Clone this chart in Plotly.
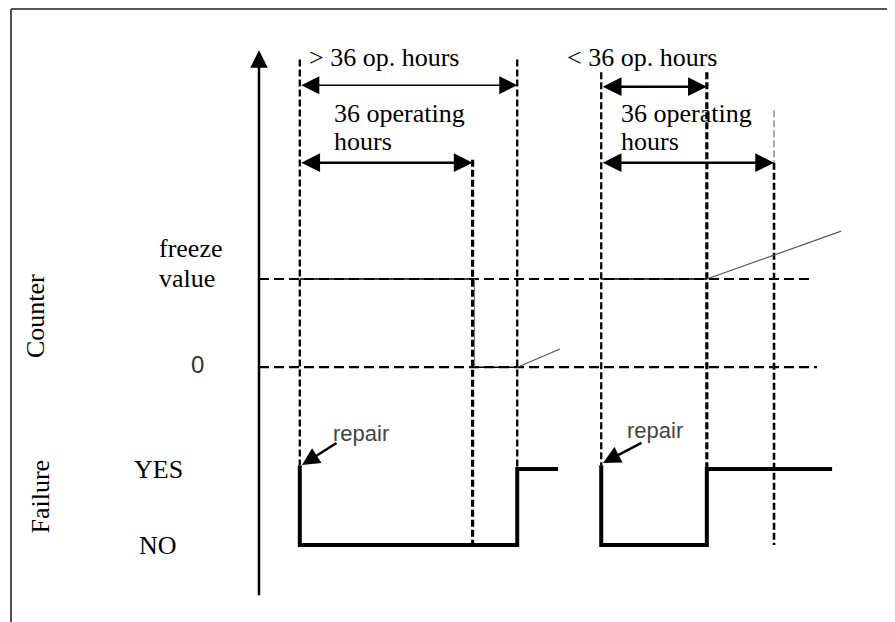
import plotly.graph_objects as go

# -------------------------------------------------------
# Data: event times (operating hours) and signal levels
# -------------------------------------------------------
# failure signal: NO = 0, YES = 1 ; counter levels drawn above it
failure_t1 = [8.5, 8.5, 53.8, 53.8, 62.3]
failure_v1 = [1.05, 0.0, 0.0, 1.0, 1.0]
failure_t2 = [71.3, 71.3, 93.3, 93.3, 119.4]
failure_v2 = [1.05, 0.0, 0.0, 1.0, 1.0]

counter_zero = 2.34
counter_freeze = 3.5

counter_t1 = [8.5, 44.5]
counter_v1 = [3.5, 3.5]
reset_t1 = [44.9, 44.9, 53.8]
reset_v1 = [3.5, 2.34, 2.34]
ramp_t1 = [53.8, 62.7]
ramp_v1 = [2.34, 2.58]

counter_t2 = [71.3, 93.3]
counter_v2 = [3.5, 3.5]
ramp_t2 = [93.3, 121.3]
ramp_v2 = [3.5, 4.13]

repair_times = [8.5, 71.3]
reset_time = 44.5          # repair + 36 h
failure_times = [53.8, 93.3]
window_end_2 = 107.3       # second repair + 36 h

level_labels = ["YES", "NO"]
level_values = [1.0, 0.0]

fig = go.Figure()

SERIF = "Liberation Serif"
SANS = "Liberation Sans"
FS = 26


def line(x, y, width=2, dash="solid", color="black"):
    fig.add_trace(go.Scatter(
        x=x, y=y, mode="lines",
        line=dict(color=color, width=width, dash=dash),
        hoverinfo="skip", showlegend=False
    ))


# horizontal dashed reference levels
line([0, 115.4], [counter_freeze, counter_freeze], 2.2, "10px,5px")
line([0, 116.25], [counter_zero, counter_zero], 2.2, "10px,5px")

# vertical dashed markers
line([repair_times[0], repair_times[0]], [6.39, 1.05], 2.3, "7px,3px")
line([reset_time, reset_time], [5.07, 0.0], 3.2, "7px,3px")
line([failure_times[0], failure_times[0]], [6.39, 1.0], 2.3, "7px,3px")
line([repair_times[1], repair_times[1]], [6.22, 1.05], 2.3, "7px,3px")
line([failure_times[1], failure_times[1]], [6.22, 1.0], 3.2, "7px,3px")
line([window_end_2, window_end_2], [5.72, 5.03], 1, "7px,3px", "#555")
line([window_end_2, window_end_2], [5.03, 0.0], 2.6, "7px,3px")

# counter curves
line(counter_t1, counter_v1, 1.5)
line(reset_t1[:2], reset_v1[:2], 1.2, color="#777")
line(reset_t1[1:], reset_v1[1:], 1.5)
line(ramp_t1, ramp_v1, 1.2, color="#555")
line(counter_t2, counter_v2, 1.5)
line(ramp_t2, ramp_v2, 1.2, color="#555")

# failure signal
line(failure_t1, failure_v1, 4)
line(failure_t2, failure_v2, 4)

annotations = []


def arrow(x0, y0, x1, y1, width=2.5, size=1.0, both=True):
    annotations.append(dict(
        x=x1, y=y1, ax=x0, ay=y0, xref="x", yref="y", axref="x", ayref="y",
        text="", showarrow=True, arrowhead=2, arrowsize=size,
        arrowwidth=width, arrowcolor="black",
        arrowside="end+start" if both else "end",
        standoff=0, startstandoff=0
    ))


def label(x, y, text, size=FS, font=SERIF, color="black", xanchor="left",
          angle=0):
    annotations.append(dict(
        x=x, y=y, xref="x", yref="y", text=text, showarrow=False,
        xanchor=xanchor, yanchor="middle", textangle=angle,
        font=dict(family=font, size=size, color=color)
    ))


# main axis
arrow(0, -0.68, 0, 6.51, width=2.5, size=1.4, both=False)

# dimension arrows
arrow(repair_times[0], 6.05, failure_times[0], 6.05, width=1.5, size=2.4)
arrow(repair_times[0], 5.03, reset_time, 5.03, width=2.5, size=1.5)
arrow(repair_times[1], 6.03, failure_times[1], 6.03, width=2.5, size=1.5)
arrow(repair_times[1], 5.03, window_end_2, 5.03, width=2.5, size=1.5)

# repair pointers
arrow(16.46, 1.355, 8.96, 1.053, width=2.5, size=1.4, both=False)
arrow(80.0, 1.355, 71.67, 1.08, width=2.5, size=1.4, both=False)

# texts
label(10.0, 6.41, "&gt; 36 op. hours")
label(15.2, 5.684, "36 operating")
label(15.2, 5.303, "hours")
label(63.75, 6.41, "&lt; 36 op. hours")
label(75.0, 5.684, "36 operating")
label(75.0, 5.303, "hours")
label(-21.25, 3.908, "freeze")
label(-21.25, 3.513, "value")
label(-12.9, 2.37, "0", size=24, font=SANS, color="#333", xanchor="center")
for lab, val in zip(level_labels, level_values):
    label(-21.0, val, lab, xanchor="center")
label(21.25, 1.47, "repair", size=22, font=SANS, color="#444", xanchor="center")
label(82.5, 1.51, "repair", size=22, font=SANS, color="#444", xanchor="center")
label(-46.7, 3.01, "Counter", xanchor="center", angle=-90)
label(-45.6, 0.64, "Failure", xanchor="center", angle=-90)

# the page puts the figure 8 px in from the window corner
fig.update_layout(
    width=895, height=622,
    margin=dict(l=0, r=0, t=0, b=0),
    paper_bgcolor="white", plot_bgcolor="white",
    xaxis=dict(range=[-52.29, 134.17], visible=False, fixedrange=True),
    yaxis=dict(range=[-1.118, 7.066], visible=False, fixedrange=True),
    annotations=annotations,
    shapes=[
        dict(type="line", xref="paper", yref="paper",
             x0=3 / 895, x1=1, y0=1 - 1 / 622, y1=1 - 1 / 622,
             line=dict(color="#555", width=2)),
        dict(type="line", xref="paper", yref="paper",
             x0=3 / 895, x1=3 / 895, y0=0, y1=1 - 1 / 622,
             line=dict(color="#555", width=2)),
    ],
    showlegend=False
)

fig.write_html("out.html")
